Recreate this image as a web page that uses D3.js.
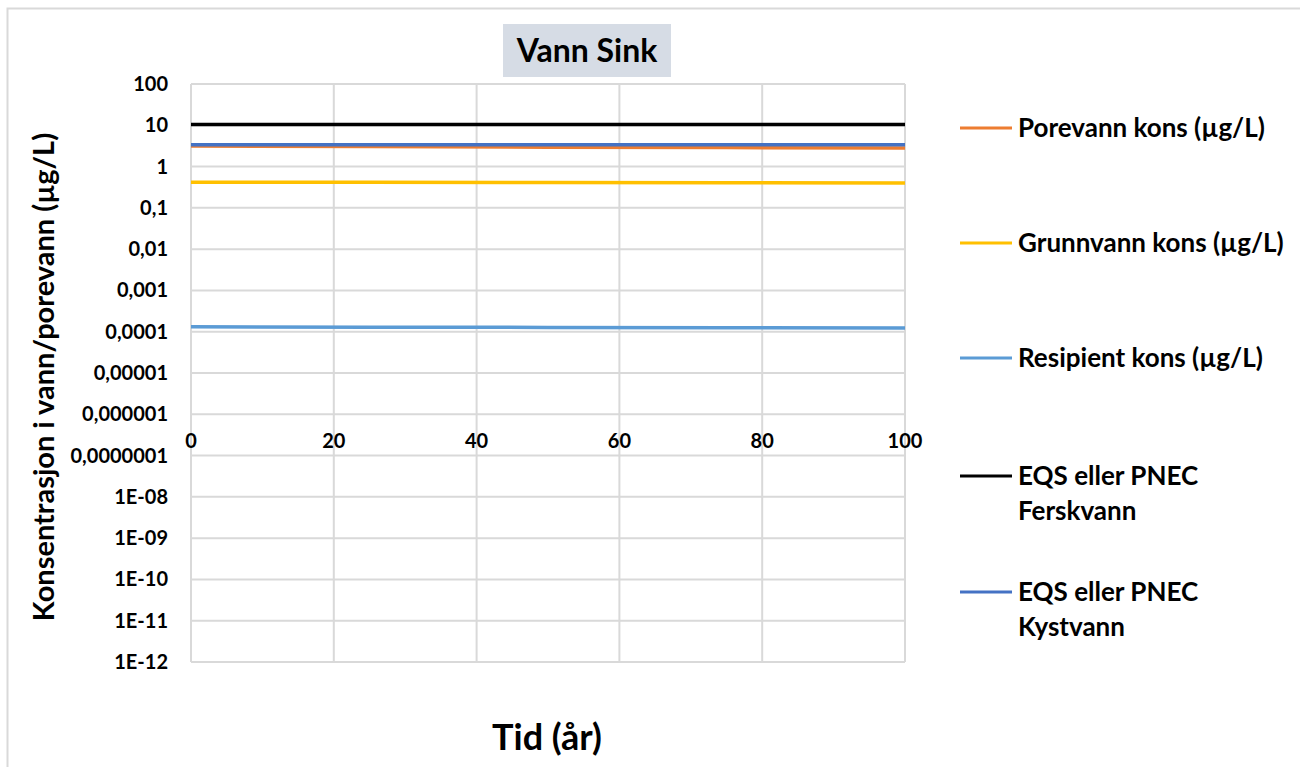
<!DOCTYPE html>
<html>
<head>
<meta charset="utf-8">
<script src="https://cdn.jsdelivr.net/npm/d3@7"></script>
<style>
  body { margin: 0; background: #fff; }
  svg text { font-family: Lato, "Open Sans", sans-serif; font-weight: bold; fill: #000; }
</style>
</head>
<body>
<svg class="chart" width="1300" height="767"></svg>
<script>
// data
var years = [0, 25, 50, 75, 100];
var porevann = [3.15, 3.05, 2.95, 2.88, 2.82];
var grunnvann = [0.42, 0.415, 0.41, 0.405, 0.40];
var resipient = [0.000131, 0.000129, 0.000127, 0.000125, 0.000123];
var eqsFersk = [10.5, 10.5, 10.5, 10.5, 10.5];
var eqsKyst = [3.4, 3.4, 3.4, 3.4, 3.4];

var seriesNames = ["Porevann kons (µg/L)", "Grunnvann kons (µg/L)", "Resipient kons (µg/L)",
  "EQS eller PNEC Ferskvann", "EQS eller PNEC Kystvann"];
var seriesColors = ["#ed7d31", "#ffc000", "#5b9bd5", "#000000", "#4472c4"];
var yTicks = [100, 10, 1, 0.1, 0.01, 0.001, 0.0001, 0.00001, 0.000001, 0.0000001,
  1e-8, 1e-9, 1e-10, 1e-11, 1e-12];
var yTickLabels = ["100", "10", "1", "0,1", "0,01", "0,001", "0,0001", "0,00001", "0,000001",
  "0,0000001", "1E-08", "1E-09", "1E-10", "1E-11", "1E-12"];
var xTicks = [0, 20, 40, 60, 80, 100];

var svg = d3.select(".chart");

// chart area border
svg.append("rect")
  .attr("x", 7.5).attr("y", 8.5)
  .attr("width", 1320).attr("height", 800)
  .attr("fill", "none").attr("stroke", "#d9d9d9").attr("stroke-width", 2);

var plotLeft = 191, plotRight = 905, plotTop = 84, plotBottom = 662;

var x = d3.scaleLinear().domain([0, 100]).range([plotLeft, plotRight]);
var y = d3.scaleLog().domain([1e-12, 100]).range([plotBottom, plotTop]);

// gridlines
svg.append("g").selectAll("line")
  .data(yTicks)
  .enter().append("line")
  .attr("x1", plotLeft).attr("x2", plotRight)
  .attr("y1", function(d) { return y(d); })
  .attr("y2", function(d) { return y(d); })
  .attr("stroke", "#d9d9d9").attr("stroke-width", 2);

svg.append("g").selectAll("line")
  .data(xTicks)
  .enter().append("line")
  .attr("x1", function(d) { return x(d); })
  .attr("x2", function(d) { return x(d); })
  .attr("y1", plotTop).attr("y2", plotBottom)
  .attr("stroke", "#d9d9d9").attr("stroke-width", 2);

// y axis labels
svg.append("g").selectAll("text")
  .data(yTicks)
  .enter().append("text")
  .attr("x", 168)
  .attr("y", function(d) { return y(d); })
  .attr("dy", "0.35em")
  .attr("text-anchor", "end")
  .style("font-size", "20px")
  .text(function(d, i) { return yTickLabels[i]; });

// x axis crosses at 0,000001
svg.append("g").selectAll("text")
  .data(xTicks)
  .enter().append("text")
  .attr("x", function(d) { return x(d); })
  .attr("y", y(0.000001) + 27)
  .attr("dy", "0.35em")
  .attr("text-anchor", "middle")
  .style("font-size", "20px")
  .text(function(d) { return d; });

// lines (EQS first so the others are drawn on top)
var allSeries = [porevann, grunnvann, resipient, eqsFersk, eqsKyst];
var drawOrder = [3, 0, 1, 2, 4];
var line = d3.line()
  .x(function(d, i) { return x(years[i]); })
  .y(function(d) { return y(d); });

drawOrder.forEach(function(k) {
  svg.append("path")
    .datum(allSeries[k])
    .attr("d", line)
    .attr("fill", "none")
    .attr("stroke", seriesColors[k])
    .attr("stroke-width", 3.5);
});

// title
svg.append("rect")
  .attr("x", 503).attr("y", 24)
  .attr("width", 168).attr("height", 53)
  .attr("fill", "#d6dce5");
svg.append("text")
  .attr("x", 587).attr("y", 51)
  .attr("dy", "0.35em")
  .attr("text-anchor", "middle")
  .style("font-size", "32px")
  .text("Vann Sink");

// axis titles
svg.append("text")
  .attr("transform", "translate(44,377) rotate(-90)")
  .attr("dy", "0.35em")
  .attr("text-anchor", "middle")
  .style("font-size", "29px")
  .text("Konsentrasjon i vann/porevann (µg/L)");

svg.append("text")
  .attr("x", 547).attr("y", 737)
  .attr("dy", "0.35em")
  .attr("text-anchor", "middle")
  .style("font-size", "36px")
  .text("Tid (år)");

// legend
var legendY = [128, 243, 358, 476, 592];
var legend = svg.append("g").selectAll("g")
  .data(seriesNames)
  .enter().append("g")
  .attr("transform", function(d, i) { return "translate(960," + legendY[i] + ")"; });

legend.append("line")
  .attr("x1", 0).attr("x2", 52)
  .attr("stroke", function(d, i) { return seriesColors[i]; })
  .attr("stroke-width", 3);

legend.append("text")
  .attr("x", 58)
  .style("font-size", "26px")
  .each(function(d) {
    var t = d3.select(this);
    if (d.indexOf("EQS") === 0) {
      t.append("tspan").attr("x", 58).attr("dy", "0.35em").text("EQS eller PNEC");
      t.append("tspan").attr("x", 58).attr("dy", "1.35em").text(d.replace("EQS eller PNEC ", ""));
    } else {
      t.attr("dy", "0.35em").text(d);
    }
  });
</script>
</body>
</html>
